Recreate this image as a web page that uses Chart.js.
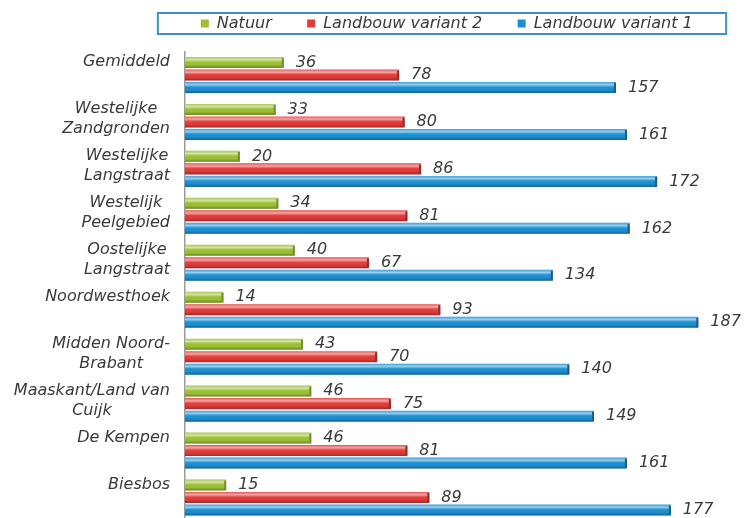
<!DOCTYPE html>
<html>
<head>
<meta charset="utf-8">
<script src="https://cdn.jsdelivr.net/npm/chart.js@4/dist/chart.umd.min.js"></script>
<style>
    html, body { margin: 0; padding: 0; background: #fff; overflow: hidden; }
    #wrap { width: 745px; height: 521px; position: relative; }
</style>
</head>
<body>
<div id="wrap"><canvas id="chart"></canvas></div>
<script>
const regions = [
    ['Gemiddeld'],
    ['Westelijke', 'Zandgronden'],
    ['Westelijke', 'Langstraat'],
    ['Westelijk', 'Peelgebied'],
    ['Oostelijke', 'Langstraat'],
    ['Noordwesthoek'],
    ['Midden Noord-', 'Brabant'],
    ['Maaskant/Land van', 'Cuijk'],
    ['De Kempen'],
    ['Biesbos']
];

const natuur = [36, 33, 20, 34, 40, 14, 43, 46, 46, 15];
const landbouwVariant2 = [78, 80, 86, 81, 67, 93, 70, 75, 81, 89];
const landbouwVariant1 = [157, 161, 172, 162, 134, 187, 140, 149, 161, 177];

const seriesNames = ['Natuur', 'Landbouw variant 2', 'Landbouw variant 1'];
const seriesColors = ['#9cc033', '#e23b39', '#1b8fd2'];
const seriesEdges = ['#6f9420', '#a82422', '#0d5f9a'];

const textColor = '#3a3a3a';
const fontFamily = '"DejaVu Sans", Verdana, sans-serif';

// bars get a light top and a dark bottom, like the rounded bars in the picture
const shinePlugin = {
    id: 'shine',
    afterDatasetsDraw(chart) {
        const ctx = chart.ctx;
        chart.data.datasets.forEach((ds, di) => {
            const meta = chart.getDatasetMeta(di);
            meta.data.forEach(bar => {
                const top = bar.y - bar.height / 2;
                const left = Math.min(bar.base, bar.x);
                const w = Math.abs(bar.x - bar.base);
                const g = ctx.createLinearGradient(0, top, 0, top + bar.height);
                g.addColorStop(0, 'rgba(255,255,255,0.15)');
                g.addColorStop(0.25, 'rgba(255,255,255,0.55)');
                g.addColorStop(0.45, 'rgba(255,255,255,0.05)');
                g.addColorStop(0.7, 'rgba(0,0,0,0)');
                g.addColorStop(1, 'rgba(0,0,0,0.3)');
                ctx.save();
                ctx.fillStyle = g;
                ctx.fillRect(left, top, w, bar.height);
                ctx.fillStyle = seriesEdges[di];
                ctx.fillRect(left + w - 2, top + 1, 2, bar.height - 2);
                ctx.restore();
            });
        });
    }
};

const valueLabelPlugin = {
    id: 'valueLabels',
    afterDatasetsDraw(chart) {
        const ctx = chart.ctx;
        ctx.save();
        ctx.font = 'italic 16px ' + fontFamily;
        ctx.fillStyle = textColor;
        ctx.textAlign = 'left';
        ctx.textBaseline = 'middle';
        chart.data.datasets.forEach((ds, di) => {
            const meta = chart.getDatasetMeta(di);
            meta.data.forEach((bar, i) => {
                ctx.fillText(String(ds.data[i]), bar.x + 12, bar.y);
            });
        });
        ctx.restore();
    }
};

// category names sit at the top of each group, lines centred on each other
const categoryLabelPlugin = {
    id: 'categoryLabels',
    afterDraw(chart) {
        const ctx = chart.ctx;
        const yScale = chart.scales.y;
        const right = chart.chartArea.left - 15;
        ctx.save();
        ctx.font = 'italic 16px ' + fontFamily;
        ctx.fillStyle = textColor;
        ctx.textAlign = 'center';
        ctx.textBaseline = 'middle';
        regions.forEach((lines, i) => {
            const cy = yScale.getPixelForValue(i);
            const blockW = Math.max(...lines.map(l => ctx.measureText(l).width));
            const cx = right - blockW / 2;
            lines.forEach((line, li) => {
                ctx.fillText(line, cx, cy - 13 + li * 20);
            });
        });
        ctx.restore();
    }
};

const legendBoxPlugin = {
    id: 'legendBox',
    afterDraw(chart) {
        const boxes = chart.legend.legendHitBoxes;
        if (!boxes || !boxes.length) return;
        const first = boxes[0];
        const last = boxes[boxes.length - 1];
        const ctx = chart.ctx;
        ctx.save();
        ctx.strokeStyle = '#3d8fd0';
        ctx.lineWidth = 2;
        ctx.strokeRect(first.left - 43, first.top - 2.5, last.left + last.width - first.left + 51, first.height + 5);
        ctx.restore();
    }
};

new Chart(document.getElementById('chart'), {
    type: 'bar',
    data: {
        labels: regions,
        datasets: [natuur, landbouwVariant2, landbouwVariant1].map((values, i) => ({
            label: seriesNames[i],
            data: values,
            backgroundColor: seriesColors[i],
            borderWidth: 0,
            categoryPercentage: 0.8,
            barPercentage: 0.88
        }))
    },
    options: {
        indexAxis: 'y',
        responsive: true,
        maintainAspectRatio: false,
        animation: false,
        layout: {
            padding: { left: 185, right: 11, top: 5.5, bottom: 0 }
        },
        scales: {
            x: {
                display: true,
                position: 'top',
                min: 0,
                max: 200,
                grid: { display: false, drawTicks: false },
                border: { display: false },
                ticks: { display: false },
                title: { display: true, text: '', padding: 0, font: { size: 10, lineHeight: 1 } }
            },
            y: {
                afterFit(scale) { scale.width = 0; },
                grid: { display: false, drawTicks: false },
                border: { display: true, color: '#9a9a9a', width: 1.5 },
                ticks: { display: false }
            }
        },
        plugins: {
            legend: {
                position: 'top',
                labels: {
                    boxWidth: 8,
                    boxHeight: 8,
                    padding: 10,
                    color: textColor,
                    font: { family: fontFamily, size: 16, style: 'italic' },
                    generateLabels(chart) {
                        const items = Chart.defaults.plugins.legend.labels.generateLabels(chart);
                        return items.map(item => ({
                            ...item,
                            text: item.text + '\u00a0\u00a0\u00a0\u00a0\u00a0'
                        }));
                    }
                }
            },
            tooltip: { enabled: false }
        }
    },
    plugins: [shinePlugin, valueLabelPlugin, categoryLabelPlugin, legendBoxPlugin]
});
</script>
</body>
</html>
